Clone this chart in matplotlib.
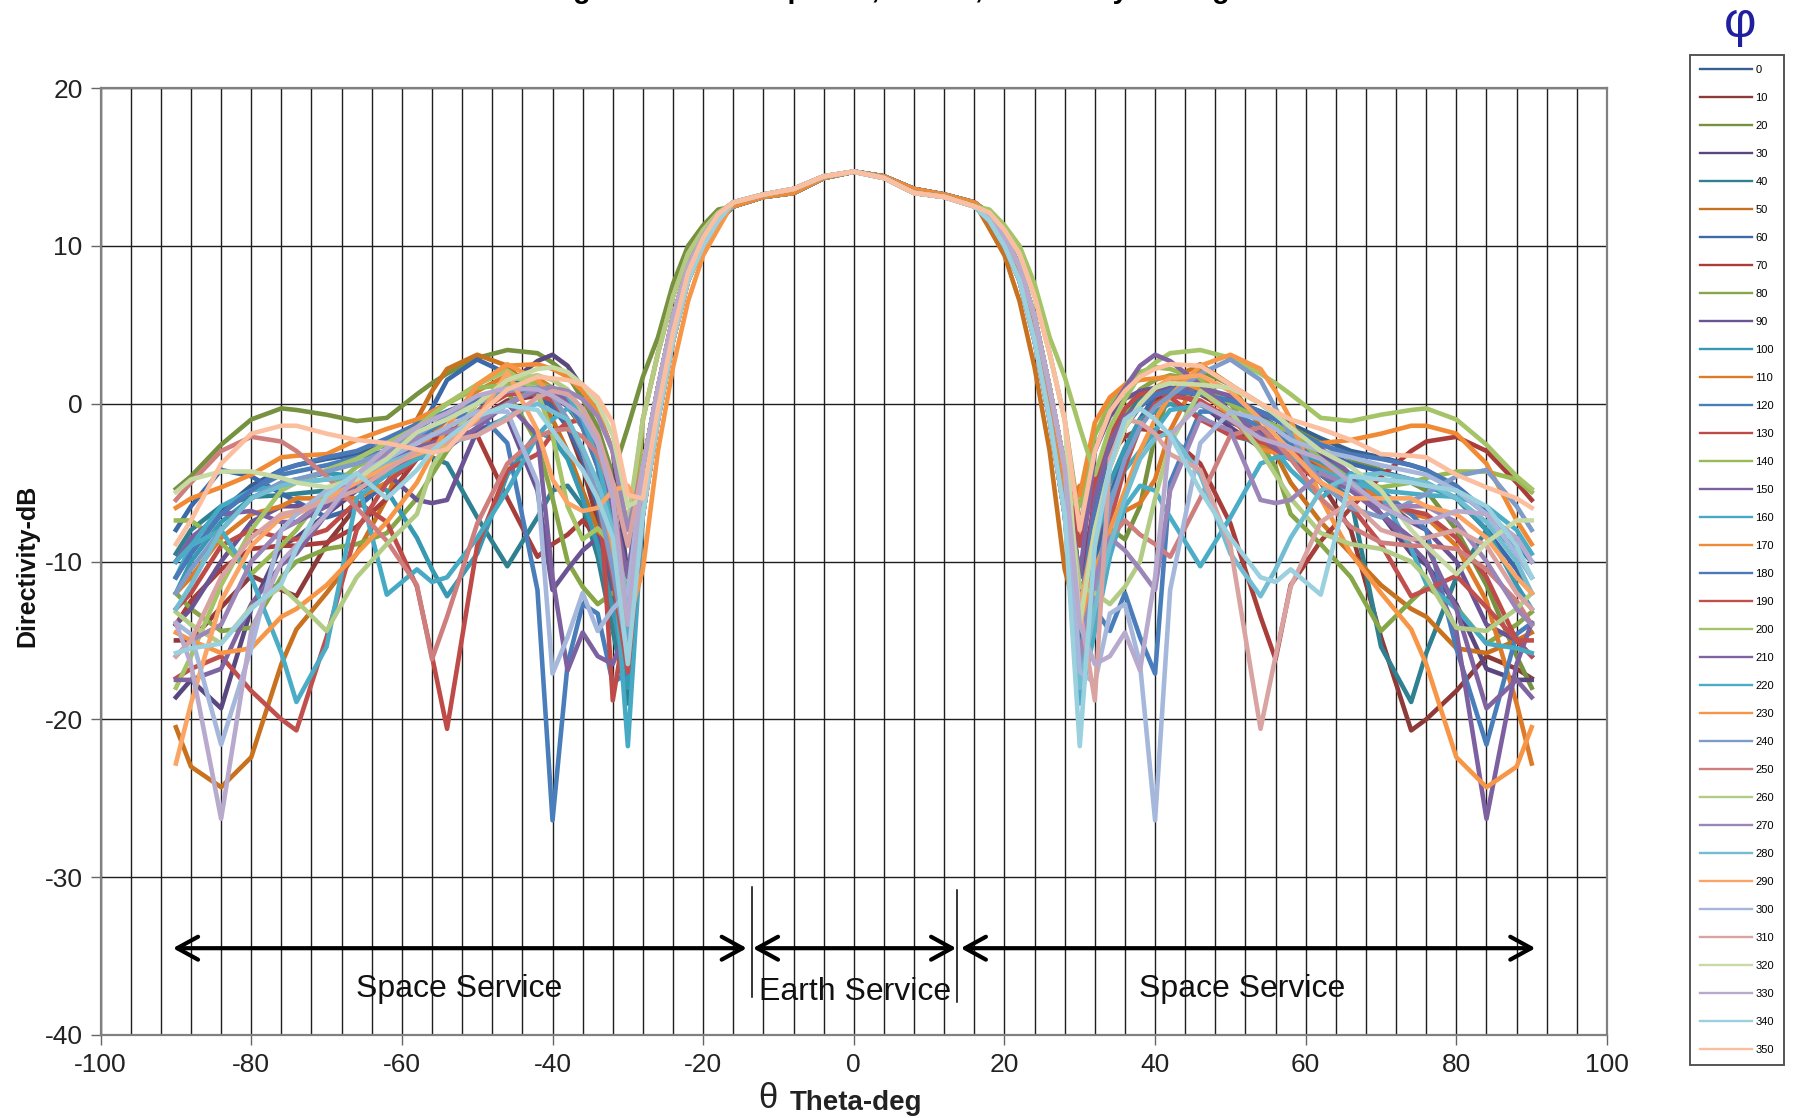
import matplotlib
matplotlib.use("Agg")
from matplotlib import pyplot as plt
from matplotlib.ticker import MultipleLocator

plt.rcParams['font.family'] = ['Liberation Sans', 'DejaVu Sans']
plt.rcParams['axes.unicode_minus'] = False

# theta values of the left half of each curve, the right half is the mirror of phi + 180
theta_side = [-90, -88, -84, -80, -76, -74, -70, -66, -62, -58, -56, -54, -50, -46, -42, -40, -38, -36, -34, -32, -30,
              -28, -26, -24, -22, -20, -18]
theta_main = [-16, -12, -8, -4, 0, 4, 8, 12, 16]
main_lobe_low = [12.5, 13.1, 13.35, 14.3, 14.7, 14.4, 13.6, 13.25, 12.75]
main_lobe_high = [12.75, 13.25, 13.6, 14.4, 14.7, 14.3, 13.35, 13.1, 12.5]

phi_labels = list(range(0, 360, 10))

# rising edge of the main lobe, theta -28 to -18
rise_a = [1.7, 4.2, 7.6, 10.0, 11.3, 12.3]
rise_b = [-1.0, 3.2, 6.8, 9.5, 11.0, 12.1]
rise_c = [-4.0, 1.0, 5.5, 8.7, 10.6, 12.0]
rise_d = [-7.0, -1.0, 4.0, 7.8, 10.0, 11.6]
rise_e = [-10.5, -3.0, 2.3, 6.5, 9.4, 11.1]
rise_f = [-6.0, -0.3, 4.5, 8.3, 10.5, 12.0]

left_000 = [-10, -8.8, -6.8, -5.2, -4.2, -3.9, -3.5, -3.2, -2.6, -1.6, -1.0, -0.5, 0.2, 0.6, 0.8, 0.6, -0.2, -1.5, -3.6, -7, -13]
left_010 = [-15, -15, -12.9, -10.9, -11.8, -12.2, -8.9, -6.5, -5, -3.5, -2.9, -2.3, -1, 0.2, 0.5, 0, -1.5, -4, -7.5, -13, -18]
left_020 = [-5.4, -4.6, -2.6, -1, -0.3, -0.4, -0.7, -1.1, -0.9, 0.6, 1.3, 1.9, 2.9, 3.4, 3.2, 2.6, 1.8, 0.3, -1.5, -4.5, -1.5]
left_030 = [-18.6, -17.5, -19.3, -13, -9, -8.5, -7, -5.5, -4.5, -3.5, -2.8, -2, -0.5, 1.2, 2.7, 3.1, 2.4, 1, -0.5, -3, -11]
left_040 = [-9.5, -8, -6.5, -5.9, -5.8, -5.7, -5.5, -5, -4.2, -3.4, -3.4, -3.8, -7.2, -10.3, -7.2, -5.5, -5.2, -6.5, -9.7, -14.4, -19]
left_050 = [-20.5, -23, -24.3, -22.4, -16.5, -14.3, -12, -9.5, -6, -1, 0.8, 2.2, 3.1, 2.4, 0.5, -1, -3, -5.5, -8, -10.5, -14]
left_060 = [-8, -6.5, -4.2, -4.6, -5.7, -6.2, -7.2, -6.6, -5, -2, -0.3, 1.5, 2.8, 1.9, 0.5, -0.2, -1.5, -3.5, -6.5, -12, -16.5]
left_070 = [-14, -12.5, -10.5, -9.2, -9, -9, -8.8, -7.8, -6, -3.5, -2.4, -1.5, -2, -6, -9.7, -8.9, -8.3, -7.4, -8.5, -13, -18]
left_080 = [-12, -13, -14.4, -14.2, -11, -10, -9.2, -8.9, -8.2, -6, -4.5, -3, -0.5, 0.8, -2.5, -6, -10, -11.6, -12.7, -12, -11.6]
left_090 = [-14, -13, -10, -7.5, -6.5, -6.5, -6.5, -5.2, -4.4, -6.1, -6.3, -6.1, -1.7, -0.9, -5.5, -11.8, -10.5, -9.3, -8.5, -11, -16]
left_100 = [-12, -10, -7.5, -6, -5, -4.8, -4.4, -4.6, -5.5, -8.5, -10.5, -12.2, -9.5, -4.5, -1.8, -2.2, -3.5, -6, -9, -13, -18]
left_110 = [-12, -11, -8.5, -7, -6.5, -6, -6, -6, -5, -3, -2, -1, 0.8, 1.8, 1.6, 1, 0, -1.5, -4, -8, -13]
left_120 = [-11, -9.5, -7, -5.5, -4.5, -4.3, -3.9, -3.4, -3, -2.3, -1.6, -1, -0.5, -2.5, -11.8, -26.4, -16.5, -12.7, -13.3, -17.7, -17]
left_130 = [-13, -12, -9, -8, -8.5, -8.6, -8, -6.2, -7.5, -11.6, -16, -20.6, -9, -4.2, -3.2, -1.9, -1.2, -1, -3.5, -18.8, -13]
left_140 = [-7.4, -7.4, -8.8, -10.8, -9, -8, -5.5, -4, -3, -1.5, -0.7, 0, 1, 1.2, 1.3, 1, 0, -1.5, -4, -8, -14]
left_150 = [-10, -8.5, -7, -6.8, -7.5, -7.5, -6.5, -5, -3.5, -2.8, -2.5, -2.2, -1, 0, -2, -11, -16.9, -14.5, -16, -16.5, -14]
left_160 = [-11, -9, -6.5, -5.5, -5.2, -5, -4.8, -4.6, -12.1, -10.5, -11.3, -11, -8.5, -5.5, -2, -1, -0.3, -1, -4, -9, -21.7]
left_170 = [-6.6, -6, -5.3, -4.5, -3.4, -3.3, -3.2, -2.3, -1.6, -1, -0.5, 0, 1.2, 2.4, 2.5, 2.2, 1.7, 0.8, -0.5, -3, -8]
left_180 = [-11, -9.5, -7, -5.5, -4.2, -3.9, -3.4, -3, -2.2, -1.3, -0.9, -0.5, 0.3, 0.8, 1, 1, 0.2, -1.5, -4, -8, -14]
left_190 = [-17.4, -16.8, -16, -18.2, -20, -20.7, -14.8, -8, -5, -3.5, -2.7, -2, -0.5, 0.6, 0.6, 0.2, -1, -3, -6, -11, -17]
left_200 = [-18, -16, -11.5, -8, -5.5, -5, -4.2, -3.5, -2.5, -1.5, -0.7, 0, 1.2, 2.1, 0.8, -2, -6.5, -8.6, -7.9, -9, -11]
left_210 = [-17.5, -17.5, -16.8, -12.7, -10.2, -9.5, -7, -5, -4, -3.5, -3.1, -2.8, -1.5, 0, 0.8, 0.6, 0.2, -1, -3, -6.5, -11]
left_220 = [-10, -9, -8, -11, -15.8, -18.9, -15.4, -6, -4.5, -3.5, -3, -2.5, -1, 0, 1, 1, 0.5, -1, -3.5, -8, -15]
left_230 = [-14.5, -15, -15.8, -15.5, -13.5, -13, -11.5, -9.5, -7.5, -5, -3.2, -1.5, 1.2, 2.5, 1.5, 0.5, -1, -3, -6, -9.5, -14]
left_240 = [-12, -10.5, -8, -6, -5, -4.8, -4.3, -3.8, -3, -2, -1.4, -0.8, 0, 0.8, 1, 0.5, -1, -3, -6, -10.5, -16]
left_250 = [-6.1, -5, -3, -2.1, -2.4, -3, -4.6, -6.6, -8.7, -11.5, -16.2, -13.5, -7.6, -3.8, -2.1, -1.7, -1.6, -2.1, -3.2, -5.5, -14]
left_260 = [-13.2, -14, -15.2, -12.9, -11.6, -12.5, -14.4, -11, -8.9, -7, -4, -2.5, 0, 1.5, 1.8, 1.5, 0.9, -0.5, -2.5, -5, -7.5]
left_270 = [-16, -15, -14, -10, -8, -7.5, -6, -4.5, -3.2, -2.2, -2, -1.8, -1.2, 0, 0.9, 1, 0.8, 0.3, -0.8, -3, -8]
left_280 = [-13, -11.5, -8, -6, -5.2, -5, -4.8, -4.5, -3.8, -3, -2.7, -2.5, -2, -0.8, 0, -0.5, -1, -2.8, -5, -8, -12.5]
left_290 = [-22.8, -19, -12.5, -9, -7.2, -7, -6, -5, -4, -3.2, -2.9, -2.5, -1, 2, -1.7, -4.8, -6.3, -6.8, -6.6, -5.5, -5.2]
left_300 = [-13.9, -14.6, -21.6, -15.5, -8, -7, -5.5, -4.5, -3.5, -2.5, -2, -1.5, -0.5, -0.5, -5, -17.1, -14.8, -12, -14.4, -13, -12]
left_310 = [-16, -15, -11, -8.5, -7, -6.8, -6.2, -5.5, -4.2, -3, -2.7, -2.4, -2, -1, 0.4, 0.8, 0.6, -0.3, -2, -5, -9]
left_320 = [-5.6, -4.8, -4.3, -4.3, -4.7, -5, -5.3, -4.8, -3.5, -1.8, -1.4, -1, 0, 1.5, 2.2, 2.3, 2, 1.2, 0, -2, -6.5]
left_330 = [-13.9, -16.5, -26.3, -14.4, -10, -9, -7, -4.5, -2.8, -1.5, -1, -0.6, 0.5, 1, 0.9, 0.5, -0.1, -0.8, -2.5, -6, -14]
left_340 = [-15.8, -15.5, -15.2, -13, -11.4, -9.2, -5.8, -4.4, -6, -4.2, -3, -2.2, -0.8, -0.1, -0.4, -1.7, -3, -4.2, -6, -8.5, -16.5]
left_350 = [-8.9, -7.4, -3.8, -1.9, -1.4, -1.4, -1.9, -2.3, -2.5, -2.9, -3.1, -2.9, -0.8, 0.9, 1.7, 1.6, 1.5, 1.2, 0.4, -1.2, -5.8]

left_curves = [
    left_000 + rise_c, left_010 + rise_d, left_020 + rise_a, left_030 + rise_c, left_040 + rise_d, left_050 + rise_c,
    left_060 + rise_c, left_070 + rise_d, left_080 + rise_c, left_090 + rise_d, left_100 + rise_d, left_110 + rise_c,
    left_120 + rise_c, left_130 + rise_c, left_140 + rise_b, left_150 + rise_c, left_160 + rise_d, left_170 + rise_b,
    left_180 + rise_c, left_190 + rise_d, left_200 + rise_c, left_210 + rise_c, left_220 + rise_c, left_230 + rise_e,
    left_240 + rise_c, left_250 + rise_c, left_260 + rise_b, left_270 + rise_c, left_280 + rise_d, left_290 + rise_d,
    left_300 + rise_c, left_310 + rise_c, left_320 + rise_f, left_330 + rise_c, left_340 + rise_d, left_350 + rise_f,
]

colors = [
    "#35608F", "#8E3A38", "#76913F", "#5B4780", "#2F8091", "#C8711F",
    "#3C6AA8", "#A83D3A", "#86A647", "#6B5494", "#3799B2", "#DD7B28",
    "#4A7EBB", "#BE4B48", "#98B954", "#7D60A0", "#46AAC5", "#F08A35",
    "#4A78B8", "#C0504D", "#A4C467", "#8064A2", "#4BACC6", "#F79646",
    "#7F9CC9", "#CE7F7D", "#B3CC85", "#9C86B8", "#73BDD2", "#FAA566",
    "#A5B8DC", "#D9A3A2", "#C7DAA6", "#B8AACD", "#9BD0DF", "#FBBFA0",
]


def full_curve(i):
    left = left_curves[i]
    right = left_curves[(i + 18) % 36]
    main_lobe = main_lobe_low if i < 18 else main_lobe_high
    x = theta_side + theta_main + [-t for t in reversed(theta_side)]
    y = left + main_lobe + list(reversed(right))
    return x, y


def service_arrow(ax, x0, x1):
    ax.annotate("", xy=(x1, -34.5), xytext=(x0, -34.5),
                arrowprops=dict(arrowstyle="<->,head_length=1.0,head_width=0.55", mutation_scale=15,
                                lw=3.0, color="black", shrinkA=0, shrinkB=0))


def main():
    fig = plt.figure(figsize=(17.93, 11.18), dpi=100)
    ax = fig.add_axes([100.6 / 1793, 1 - 1035 / 1118, 1506.4 / 1793, 947 / 1118])

    handles = []
    for i, phi in enumerate(phi_labels):
        x, y = full_curve(i)
        line, = ax.plot(x, y, color=colors[i], lw=3.3, solid_joinstyle="round", label=str(phi), zorder=3)
        handles.append(line)

    ax.set_xlim(-100, 100)
    ax.set_ylim(-40, 20)
    ax.xaxis.set_major_locator(MultipleLocator(20))
    ax.xaxis.set_minor_locator(MultipleLocator(4))
    ax.yaxis.set_major_locator(MultipleLocator(10))
    ax.grid(True, which="major", color="#1e1e1e", lw=1.0, zorder=1)
    ax.grid(True, which="minor", axis="x", color="#1e1e1e", lw=1.0, zorder=1)
    ax.tick_params(axis="both", which="major", labelsize=19, length=7, width=1.0, color="#666666",
                   labelcolor="#222222", pad=6)
    ax.tick_params(axis="x", which="minor", length=0)
    for spine in ax.spines.values():
        spine.set_color("#808080")
        spine.set_linewidth(1.6)

    # service regions
    service_arrow(ax, -90.4, -14.2)
    service_arrow(ax, -13.4, 13.6)
    service_arrow(ax, 14.2, 90.5)
    ax.plot([-13.5, -13.5], [-30.6, -37.6], color="black", lw=1.1, zorder=4)
    ax.plot([13.7, 13.7], [-30.8, -37.9], color="black", lw=1.1, zorder=4)
    ax.text(-52.4, -37.1, "Space Service", fontsize=23, ha="center", va="center", color="#111111")
    ax.text(0.2, -37.3, "Earth Service", fontsize=23, ha="center", va="center", color="#111111")
    ax.text(51.6, -37.1, "Space Service", fontsize=23, ha="center", va="center", color="#111111")

    # the title is cut by the top edge in the reference
    fig.text(862 / 1793, 1 + 1.5 / 1118, "Average Antenna Response, All Phi, Directivity vs Deg", fontsize=20.5,
             fontweight="bold", ha="center", va="baseline")
    fig.text(27 / 1793, 1 - 566 / 1118, "Directivity-dB", fontsize=18, fontweight="bold", rotation=90,
             ha="center", va="center", color="#111111")
    fig.text(768 / 1793, 1 - 1098 / 1118, "\u03b8", fontsize=25, ha="center", va="center", color="#222222")
    fig.text(856 / 1793, 1 - 1103 / 1118, "Theta-deg", fontsize=20, fontweight="bold", ha="center", va="center",
             color="#222222")
    fig.text(1740 / 1793, 1 - 24 / 1118, "\u03c6", fontsize=36, ha="center", va="center", color="#1F1F9F")

    leg = fig.legend(handles=handles, loc="upper left", bbox_to_anchor=(1690 / 1793, 1 - 55 / 1118), fontsize=8,
                     frameon=True, fancybox=False, edgecolor="#555555", framealpha=1, handlelength=4.7,
                     handletextpad=0.3, labelspacing=1.62, borderpad=0.9, borderaxespad=0)
    leg.get_frame().set_linewidth(1.4)
    for line in leg.get_lines():
        line.set_linewidth(1.7)

    fig.savefig("out.png", dpi=100)


if __name__ == '__main__':
    main()
